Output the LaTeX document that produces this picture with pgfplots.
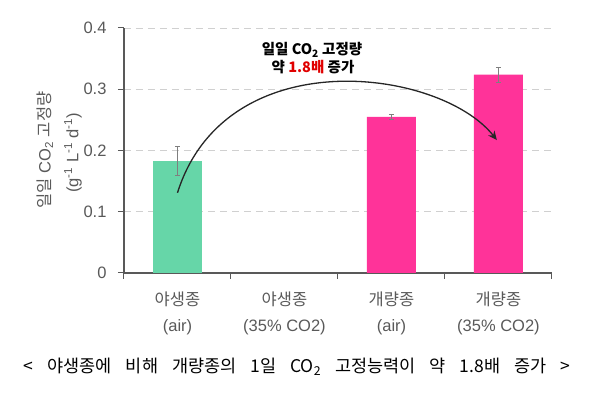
\documentclass[border=0pt]{standalone}
\usepackage{pgfplots}
\pgfplotsset{compat=1.18}
\usepackage{fontspec}
\setmainfont{Liberation Sans}
\newfontfamily\kr{Noto Sans CJK KR}
\usetikzlibrary{arrows.meta}
\definecolor{txtgray}{HTML}{595959}
\definecolor{barg}{HTML}{66D6A8}
\definecolor{barp}{HTML}{FF3399}
\definecolor{gridc}{HTML}{D0D0D0}
\definecolor{errc}{HTML}{7F7F7F}
\definecolor{redt}{HTML}{E00000}
\tikzset{xlab/.style={align=center, text=txtgray, font=\fontsize{16.5}{26}\selectfont, yshift=-40pt}}
\newcommand{\s}{\hspace{14pt}}
\begin{document}
\begin{tikzpicture}[x=1pt,y=1pt]
\path[use as bounding box] (0,0) rectangle (598,396);
\begin{axis}[
 at={(124pt,123pt)}, anchor=south west,
 scale only axis, width=428pt, height=245pt,
 xmin=-0.5, xmax=3.5, ymin=0, ymax=0.4,
 axis x line*=bottom, axis y line*=left,
 axis line style={draw=txtgray, line width=1.2pt},
 xtick={-0.5,0.5,1.5,2.5,3.5}, xticklabels={},
 ytick={0,0.1,0.2,0.3,0.4},
 yticklabel style={font=\fontsize{16.5}{18}\selectfont, text=txtgray, xshift=-8pt},
 /pgf/number format/assume math mode=true,
 /pgf/number format/fixed, /pgf/number format/precision=1,
 tick align=outside, major tick length=6pt,
 tick style={draw=txtgray, line width=1pt},
 ymajorgrids, grid style={draw=gridc, line width=0.9pt, dash pattern=on 7pt off 5pt},
 clip=false,
]
\addplot[ybar, bar width=49pt, fill=barg, draw=none,
  error bars/.cd, y dir=both, y explicit,
  error bar style={draw=errc, line width=0.7pt},
  error mark options={rotate=90, mark size=2.5pt, draw=errc, line width=0.7pt}]
  coordinates {(0,0.183) +- (0,0.023)};
\addplot[ybar, bar width=49pt, fill=barp, draw=none,
  error bars/.cd, y dir=both, y explicit,
  error bar style={draw=errc, line width=0.7pt},
  error mark options={rotate=90, mark size=2.5pt, draw=errc, line width=0.7pt}]
  coordinates {(2,0.255) +- (0,0.004) (3,0.324) +- (0,0.012)};
\draw[line width=1.3pt, draw=black!85, -{Stealth[length=9pt,width=8pt]}]
  (axis cs:0,0.131) .. controls (axis cs:0.45,0.38) and (axis cs:2.45,0.335) .. (axis cs:2.985,0.217);
\node[xlab] at (axis cs:0,0) {{\kr 야생종}\\(air)};
\node[xlab] at (axis cs:1,0) {{\kr 야생종}\\(35\% CO2)};
\node[xlab] at (axis cs:2,0) {{\kr 개량종}\\(air)};
\node[xlab] at (axis cs:3,0) {{\kr 개량종}\\(35\% CO2)};
\end{axis}
\node[rotate=90, text=txtgray, font=\fontsize{16.5}{18}\selectfont] at (45,246) {{\kr 일일} CO\textsubscript{2} {\kr 고정량}};
\node[rotate=90, text=txtgray, font=\fontsize{16.5}{18}\selectfont] at (73,243) {(g\textsuperscript{-1} L\textsuperscript{-1} d\textsuperscript{-1})};
\node[font=\fontsize{14.5}{17}\selectfont\kr\bfseries, inner sep=1pt] at (312,346) {일일 CO\textsubscript{2} 고정량};
\node[font=\fontsize{14.5}{17}\selectfont\kr\bfseries, inner sep=1pt] at (313,329) {약 \textcolor{redt}{1.8배} 증가};
\node[font=\fontsize{17.5}{20}\selectfont\kr, inner sep=0pt] at (297,29) {<\s{}야생종에\s{}비해\s{}개량종의\s{}1일\s{}CO\textsubscript{2}\s{}고정능력이\s{}약\s{}1.8배\s{}증가\s{}>};
\end{tikzpicture}
\end{document}
